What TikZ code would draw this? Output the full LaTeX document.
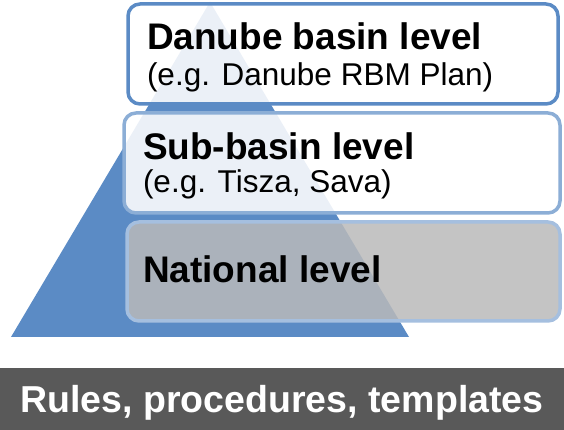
\documentclass[tikz,border=0pt]{standalone}
\usepackage{fontspec}
\setmainfont{Liberation Sans}
\usepackage{xcolor}
\usepackage{tikz}
\usetikzlibrary{positioning,calc}

\definecolor{pyrblue}{RGB}{91,139,197}
\definecolor{barGray}{RGB}{89,89,89}
\definecolor{natGray}{RGB}{186,186,186}

\begin{document}
\begin{tikzpicture}[
        x=1pt, y=1pt,
        every node/.style={inner sep=0pt, outer sep=0pt},
        levelbox/.style={rounded corners=12pt, line width=3.5pt},
        title/.style ={anchor=base west, font=\fontsize{37}{40}\selectfont\bfseries},
        sub/.style   ={anchor=base west, font=\fontsize{31.5}{34}\selectfont},
    ]
        \useasboundingbox (0,0) rectangle (564,430);

        % --- Pyramide ---
        \fill[pyrblue] (11,93) -- (210,428) -- (409,93) -- cycle;

        % --- Ebenen ---
        \draw[levelbox, draw=pyrblue, fill=white, fill opacity=0.88]
            (128,326) rectangle (558,426);
        \draw[levelbox, draw=pyrblue!70, fill=white, fill opacity=0.88]
            (124,217) rectangle (560,317);
        \draw[levelbox, draw=pyrblue!55, fill=natGray, fill opacity=0.85]
            (127,109) rectangle (560,208);

        \node[title] (danube) at (147,380) {Danube basin level};
        \node[sub]   (danubeEx) at (147,344) {(e.g. Danube RBM Plan)};
        \node[title] (subbasin) at (143,270) {Sub-basin level};
        \node[sub]   (subbasinEx) at (143,237) {(e.g. Tisza, Sava)};
        \node[title] (national) at (143,147) {National level};

        % --- Grundlage ---
        \fill[barGray] (0,0) rectangle (564,62);
        \node[font=\fontsize{37.5}{40}\selectfont\bfseries, text=white, anchor=base]
            (rules) at (282,17) {Rules, procedures, templates};
\end{tikzpicture}
\end{document}
